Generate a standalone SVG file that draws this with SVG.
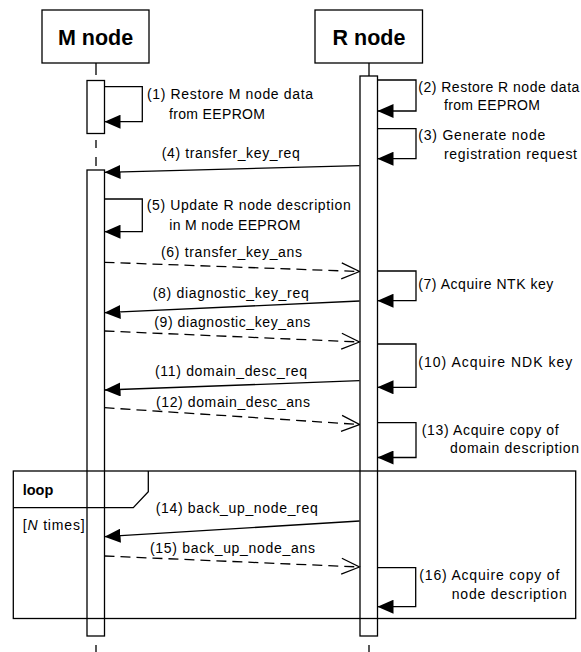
<svg xmlns="http://www.w3.org/2000/svg" width="581" height="652" viewBox="0 0 581 652">
  <style>
    text { font-family: "Liberation Sans", Arial, sans-serif; fill: #000; }
    .lbl { font-size: 14px; }
    .hdr { font-size: 21.5px; font-weight: bold; text-anchor: middle; }
    .frm { font-size: 14.5px; font-weight: bold; }
    .box { fill: #fff; stroke: #000; stroke-width: 1.3; }
    .act { fill: #fff; stroke: #000; stroke-width: 1.3; }
    .life { stroke: #000; stroke-width: 1.3; fill: none; }
    .frame { fill: none; stroke: #000; stroke-width: 1.3; }
    .call { fill: none; stroke: #000; stroke-width: 1.3; marker-end: url(#head-filled); }
    .reply { fill: none; stroke: #000; stroke-width: 1.3; stroke-dasharray: 10 6; marker-end: url(#head-open); }
  </style>
  <defs>
    <marker id="head-filled" viewBox="0 0 16 14" refX="16" refY="7" markerWidth="16" markerHeight="14" markerUnits="userSpaceOnUse" orient="auto">
      <path d="M0,0 L16,7 L0,14 Z" fill="#000"/>
    </marker>
    <marker id="head-open" viewBox="0 0 20 18" refX="19" refY="9" markerWidth="20" markerHeight="18" markerUnits="userSpaceOnUse" orient="auto">
      <path d="M1,1 L19,9 L1,17" fill="none" stroke="#000" stroke-width="1.3"/>
    </marker>
  </defs>

  <rect width="581" height="652" fill="#fff"/>

  <!-- M node: header, lifeline and activation bars -->
  <g id="m-node">
    <rect class="box" x="42" y="10" width="107" height="53"/>
    <text class="hdr" x="95.5" y="45">M node</text>
    <path class="life" d="M96,63 V75 M96,140 V148 M96,157 V166 M96,645 V652"/>
    <rect class="act" x="87" y="80.5" width="17.5" height="53"/>
    <rect class="act" x="87" y="170" width="17.5" height="466"/>
  </g>

  <!-- R node: header, lifeline and activation bar -->
  <g id="r-node">
    <rect class="box" x="315" y="10" width="107.5" height="53"/>
    <text class="hdr" x="369" y="45">R node</text>
    <path class="life" d="M369,63 V76 M369,645 V652"/>
    <rect class="act" x="360" y="76" width="17.5" height="560"/>
  </g>

  <!-- combined fragment: loop -->
  <g id="loop-frame">
    <rect class="frame" x="13.3" y="471" width="562.4" height="147.5"/>
    <path class="frame" d="M13.3,507.7 H133.3 L148.3,491.7 V471"/>
    <text class="frm" x="22.7" y="495" textLength="30.6">loop</text>
    <text class="lbl" x="22.7" y="530" textLength="62">[<tspan font-style="italic">N</tspan> times]</text>
  </g>

  <!-- self calls and messages -->
  <g id="connectors">
    <path class="call" d="M104.5,86.7 H142.3 V121.7 H104.5"/>
    <path class="call" d="M377.5,80 H416 V111 H377.5"/>
    <path class="call" d="M377.5,128.7 H416 V158.7 H377.5"/>
    <path class="call" d="M359.5,165.7 L104.5,172.3"/>
    <path class="call" d="M104.5,199 H142.3 V231.7 H104.5"/>
    <path class="reply" d="M104.5,262.3 L359.5,271.5"/>
    <path class="call" d="M377.5,271 H416 V300.7 H377.5"/>
    <path class="call" d="M359.5,301 L104.5,312.7"/>
    <path class="reply" d="M104.5,331 L359.5,342"/>
    <path class="call" d="M377.5,344 H416 V387.3 H377.5"/>
    <path class="call" d="M359.5,380.7 L104.5,390"/>
    <path class="reply" d="M104.5,407.7 L359.5,424.5"/>
    <path class="call" d="M377.5,422.7 H416 V457.5 H377.5"/>
    <path class="call" d="M359.5,521 L104.5,536.7"/>
    <path class="reply" d="M104.5,556 L359.5,567"/>
    <path class="call" d="M377.5,567.7 H415.7 V606.7 H377.5"/>
  </g>

  <!-- step labels -->
  <g id="labels" class="lbl">
    <text class="lbl" x="147" y="99" textLength="166">(1) Restore M node data</text>
    <text class="lbl" x="169" y="118.5" textLength="96">from EEPROM</text>
    <text class="lbl" x="418.3" y="91.5" textLength="161">(2) Restore R node data</text>
    <text class="lbl" x="444" y="110" textLength="96">from EEPROM</text>
    <text class="lbl" x="418.3" y="140" textLength="127">(3) Generate node</text>
    <text class="lbl" x="444" y="158.5" textLength="133">registration request</text>
    <text class="lbl" x="161.7" y="158" textLength="138">(4) transfer_key_req</text>
    <text class="lbl" x="146.7" y="210" textLength="204">(5) Update R node description</text>
    <text class="lbl" x="169.3" y="229.5" textLength="131">in M node EEPROM</text>
    <text class="lbl" x="161" y="256.5" textLength="141">(6) transfer_key_ans</text>
    <text class="lbl" x="418.3" y="288.5" textLength="135">(7) Acquire NTK key</text>
    <text class="lbl" x="152.7" y="298" textLength="156">(8) diagnostic_key_req</text>
    <text class="lbl" x="154.3" y="327" textLength="156">(9) diagnostic_key_ans</text>
    <text class="lbl" x="418.3" y="367" textLength="154">(10) Acquire NDK key</text>
    <text class="lbl" x="155" y="376" textLength="152">(11) domain_desc_req</text>
    <text class="lbl" x="156" y="407" textLength="154">(12) domain_desc_ans</text>
    <text class="lbl" x="421.7" y="435" textLength="137">(13) Acquire copy of</text>
    <text class="lbl" x="450" y="452.5" textLength="129">domain description</text>
    <text class="lbl" x="155.7" y="513" textLength="162">(14) back_up_node_req</text>
    <text class="lbl" x="150" y="552.5" textLength="165">(15) back_up_node_ans</text>
    <text class="lbl" x="419.3" y="580" textLength="140">(16) Acquire copy of</text>
    <text class="lbl" x="451.7" y="598.5" textLength="115">node description</text>
  </g>
</svg>
